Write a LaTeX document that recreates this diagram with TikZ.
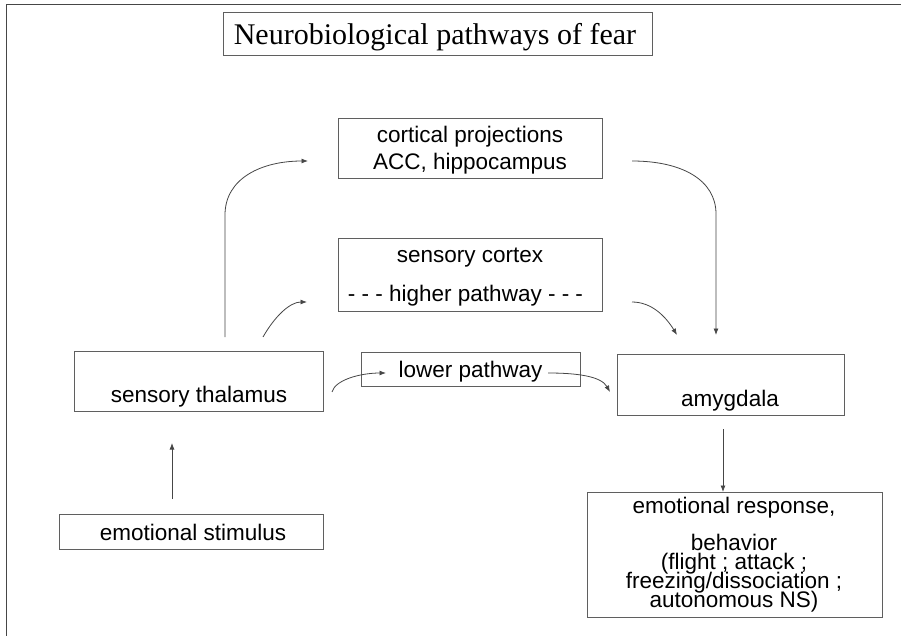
\documentclass[tikz,border=0pt]{standalone}
\usepackage{fontspec}
\setmainfont{Liberation Serif}
\setsansfont{Liberation Sans}
\usetikzlibrary{arrows.meta}
\definecolor{linegray}{RGB}{70,70,70}
\definecolor{boxgray}{RGB}{95,95,95}
\begin{document}
\begin{tikzpicture}[x=1bp,y=-1bp,
  box/.style={draw=boxgray, line width=0.9bp, inner sep=0pt, outer sep=0pt},
  txt/.style={anchor=base, inner sep=0pt, font=\sffamily\fontsize{22.5bp}{26bp}\selectfont},
  tight/.style={text height=14bp, text depth=3bp},
  ttl/.style={anchor=base, inner sep=0pt, font=\rmfamily\fontsize{30bp}{34bp}\selectfont},
  arr/.style={draw=linegray, line width=0.8bp, -{Latex[length=6.5bp,width=5bp]}},
  frm/.style={draw=linegray, line width=1bp}]
\useasboundingbox[fill=white] (0,0) rectangle (901,636);
% frame
\coordinate (fa) at (6,636);
\coordinate (fb) at (6,5);
\coordinate (fc) at (901,5);
\draw[frm] (fa) -- (fb) -- (fc);
% boxes
\node[box, minimum width=429bp, minimum height=43bp] (title) at (437.5,33.5) {};
\node[box, minimum width=264bp, minimum height=60bp] (cort) at (470,148) {};
\node[box, minimum width=264bp, minimum height=73bp] (scort) at (470,274.5) {};
\node[box, minimum width=249bp, minimum height=60bp] (thal) at (198.5,381) {};
\node[box, minimum width=264bp, minimum height=35bp] (stim) at (191,531.5) {};
\node[box, minimum width=219bp, minimum height=34bp] (lower) at (470.5,369) {};
\node[box, minimum width=227bp, minimum height=61bp] (amyg) at (730.5,384.5) {};
\node[box, minimum width=295bp, minimum height=125bp] (resp) at (734.5,554.5) {};
% texts
\node[ttl] (titletxt) at (435,45) {Neurobiological pathways of fear};
\node[txt] (cort1) at (470,143) {cortical projections};
\node[txt] (cort2) at (470,170) {ACC, hippocampus};
\node[txt] (scort1) at (470,263) {sensory cortex};
\node[txt] (scort2) at (465.5,301) {- - - higher pathway - - -};
\node[txt] (thaltxt) at (199,402) {sensory thalamus};
\node[txt] (stimtxt) at (193,540) {emotional stimulus};
\node[txt] (lowertxt) at (470.5,377) {lower pathway};
\node[txt] (amygtxt) at (730,406) {amygdala};
\node[txt, tight] (resp1) at (734,513) {emotional response,};
\node[txt, tight] (resp2) at (734,550) {behavior};
\node[txt, tight] (resp3) at (734,569.5) {(flight ; attack ;};
\node[txt, tight] (resp4) at (734,588) {freezing/dissociation ;};
\node[txt, tight] (resp5) at (734,607) {autonomous NS)};
% connector end points
\coordinate (s1) at (172,499);
\coordinate (e1) at (172,443);
\coordinate (s2) at (723,429);
\coordinate (s3) at (225,337);
\coordinate (e3) at (308,161);
\coordinate (s4) at (632,161);
\coordinate (e4) at (716,335);
\coordinate (s5) at (263,337);
\coordinate (e5) at (307,302);
\coordinate (s6) at (632,302);
\coordinate (e6) at (677,335);
\coordinate (s7) at (332,392);
\coordinate (e7) at (386,373);
\coordinate (s8) at (548,373);
\coordinate (e8) at (610,392);
% connectors
\draw[arr] (s1) -- (e1);
\draw[arr] (s2) -- (s2 |- resp.north);
\draw[arr] (s3) -- (225,215) .. controls (225,178) and (262,161) .. (e3);
\draw[arr] (s4) .. controls (682,161) and (716,180) .. (716,214) -- (e4);
\draw[arr] (s5) .. controls (275,316) and (290,302) .. (e5);
\draw[arr] (s6) .. controls (652,302) and (666,317) .. (e6);
\draw[arr] (s7) .. controls (335,380) and (360,373) .. (e7);
\draw[arr] (s8) .. controls (576,373) and (601,376) .. (e8);
\end{tikzpicture}
\end{document}
